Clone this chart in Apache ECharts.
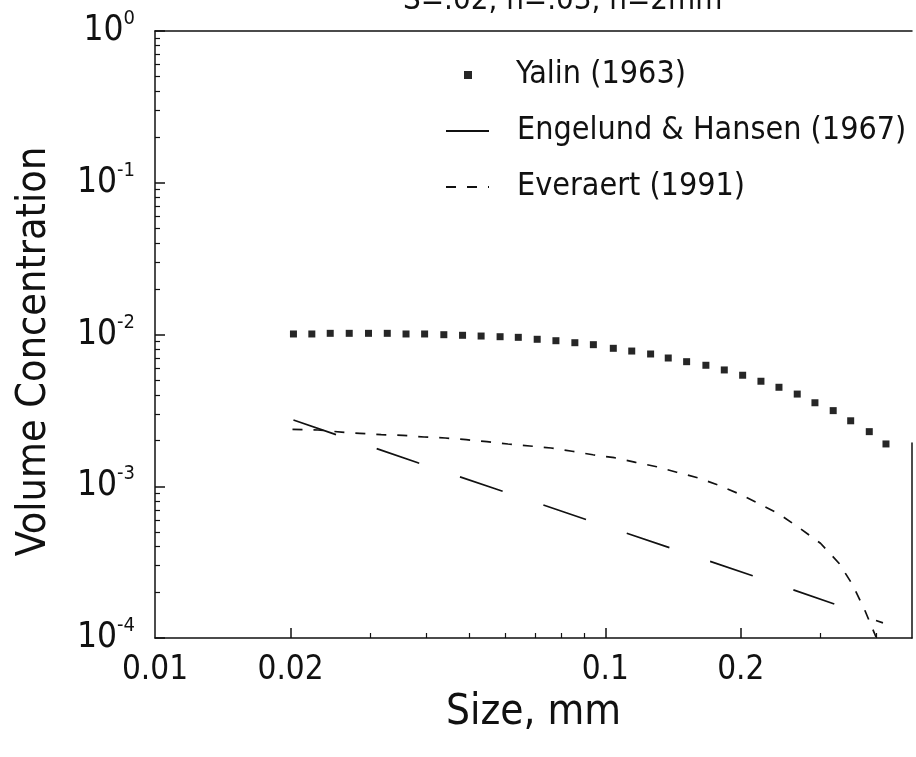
<!DOCTYPE html>
<html>
<head>
<meta charset="utf-8">
<script src="https://cdn.jsdelivr.net/npm/echarts@6/dist/echarts.min.js"></script>
<style>
html,body{margin:0;padding:0;background:#fff;}
#chart{width:916px;height:757px;}
</style>
</head>
<body>
<div id="chart"></div>
<script>
// ---- data ----
const yalinSize = [0.0203,0.0223,0.0245,0.0270,0.0298,0.0328,0.0361,0.0397,0.0438,0.0482,0.0530,0.0584,0.0641,0.0706,0.0777,0.0856,0.0941,0.1042,0.1145,0.1261,0.1380,0.1516,0.1673,0.1838,0.2019,0.2217,0.2431,0.2669,0.2922,0.3208,0.3508,0.3858,0.4202];
const yalinConc = [0.01008,0.01008,0.01018,0.01018,0.01018,0.01018,0.01008,0.01008,0.00997,0.00988,0.00977,0.00967,0.00958,0.00930,0.00910,0.00883,0.00857,0.00811,0.00778,0.00744,0.00700,0.00662,0.00627,0.00584,0.00539,0.00492,0.00449,0.00405,0.00355,0.00315,0.00270,0.00229,0.00190];

const ehSize = [0.0203,0.0385,0.0574,0.2125,0.3226];
const ehConc = [0.002733,0.001423,0.000955,0.0002572,0.0001675];

const evSize = [0.0202,0.0230,0.0264,0.0285,0.0318,0.0355,0.0396,0.0441,0.0491,0.0546,0.0608,0.0680,0.0758,0.0844,0.0939,0.1048,0.1168,0.1301,0.1441,0.1604,0.1780,0.1986,0.2200,0.2437,0.2706,0.3006,0.3304,0.3544,0.3773,0.3993,null,0.3993,0.4138];
const evConc = [0.002373,0.002348,0.002261,0.002233,0.002186,0.002166,0.002111,0.002080,0.002027,0.001967,0.001899,0.001842,0.001787,0.001700,0.001612,0.001542,0.001438,0.001345,0.001236,0.001138,0.001019,0.000889,0.000764,0.000654,0.000528,0.000421,0.000311,0.000224,0.0001518,0.0001015,null,0.0001304,0.0001259];

const seriesNames = ['Yalin (1963)','Engelund & Hansen (1967)','Everaert (1991)'];
const titleText = 'S=.02, n=.03, h=2mm';
const xName = 'Size, mm';
const yName = 'Volume Concentration';

const xLabelValues = [0.01,0.02,0.1,0.2];
const xLabelTexts = ['0.01','0.02','0.1','0.2'];
const xMajorTicks = [0.02,0.1,0.2];
const xMinorTicks = [0.03,0.04,0.05,0.06,0.07,0.08,0.09,0.3,0.4];

const yLabelValues = [0.0001,0.001,0.01,0.1,1];
const yLabelExps = ['-4','-3','-2','-1','0'];
const yMinorTicks = [0.0002,0.0003,0.0004,0.0005,0.0006,0.0007,0.0008,0.0009,
  0.002,0.003,0.004,0.005,0.006,0.007,0.008,0.009,
  0.02,0.03,0.04,0.05,0.06,0.07,0.08,0.09,
  0.2,0.3,0.4,0.5,0.6,0.7,0.8,0.9];

const xMin = 0.01, xMax = 0.48, yMin = 0.0001, yMax = 1;

// ---- build ----
const FONT = "'DejaVu Sans Condensed','Liberation Sans Narrow','Liberation Sans',sans-serif";
const INK = '#111';
function zip(a,b){ return a.map((v,i)=> (v===null||b[i]===null) ? [v, null] : [v,b[i]]); }
function nearestIdx(arr, v){ let bi=0,bd=Infinity; arr.forEach((a,i)=>{const d=Math.abs(Math.log(a)-Math.log(v)); if(d<bd){bd=d;bi=i;}}); return bi; }

const chart = echarts.init(document.getElementById('chart'), null, {renderer:'canvas'});
const axisLine = {show:true, lineStyle:{color:INK, width:1.5}};
const legendText = {fontFamily:FONT, fontSize:32, color:INK, lineHeight:40};
const noSymbol = {color:'rgba(0,0,0,0)', borderWidth:0, opacity:0};
chart.setOption({
  animation:false,
  backgroundColor:'#fff',
  title:{text:titleText, left:403, top:-15, padding:0, textStyle:{fontFamily:FONT, fontSize:31, fontWeight:'normal', color:INK}},
  grid:[
    {left:155, right:4, top:31, bottom:119, containLabel:false, outerBoundsMode:'none'},
    // partial right frame edge, as in the scan
    {left:912, right:4, top:443, bottom:119, containLabel:false, outerBoundsMode:'none'}
  ],
  legend:[
    {data:[{name:seriesNames[0], icon:'rect'}], left:464, top:55, padding:0, itemWidth:8, itemHeight:8, orient:'vertical',
     textStyle:Object.assign({padding:[0,0,0,39]}, legendText)},
    {data:[seriesNames[1]], left:445, top:111, padding:0, itemWidth:43, itemHeight:2, orient:'vertical',
     itemStyle:noSymbol,
     textStyle:Object.assign({padding:[0,0,0,23]}, legendText)},
    {data:[seriesNames[2]], left:445, top:167, padding:0, itemWidth:43, itemHeight:2, orient:'vertical',
     itemStyle:noSymbol,
     textStyle:Object.assign({padding:[0,0,0,23]}, legendText)}
  ],
  xAxis:[
    {type:'log', gridIndex:0, min:xMin, max:xMax, position:'bottom',
     name:xName, nameLocation:'middle', nameGap:50,
     nameTextStyle:{fontFamily:FONT, fontSize:42, color:INK},
     axisLine:axisLine,
     axisTick:{show:true, inside:true, length:10, lineStyle:{color:INK, width:1.5}, customValues:xMajorTicks},
     axisLabel:{show:true, margin:16, fontFamily:FONT, fontSize:33, color:INK, customValues:xLabelValues,
       formatter:(v)=> xLabelTexts[nearestIdx(xLabelValues, v)]},
     splitLine:{show:false}, minorTick:{show:false}},
    {type:'log', gridIndex:0, min:xMin, max:xMax, position:'bottom',
     axisLine:{show:false},
     axisTick:{show:true, inside:true, length:5, lineStyle:{color:INK, width:1.2}, customValues:xMinorTicks},
     axisLabel:{show:false}, splitLine:{show:false}},
    {type:'log', gridIndex:0, min:xMin, max:xMax, position:'top',
     axisLine:axisLine, axisTick:{show:false}, axisLabel:{show:false}, splitLine:{show:false}},
    {type:'value', gridIndex:1, show:false}
  ],
  yAxis:[
    {type:'log', gridIndex:0, min:yMin, max:yMax, position:'left',
     name:yName, nameLocation:'middle', nameGap:100,
     nameTextStyle:{fontFamily:FONT, fontSize:41, color:INK, padding:[0,34,0,0]},
     axisLine:axisLine,
     axisTick:{show:true, inside:true, length:10, lineStyle:{color:INK, width:1.5}, customValues:yLabelValues},
     axisLabel:{show:true, margin:20, customValues:yLabelValues,
       formatter:(v)=> '{b|10}{s|' + yLabelExps[nearestIdx(yLabelValues, v)] + '}',
       rich:{
         b:{fontFamily:FONT, fontSize:35, color:INK, lineHeight:44},
         s:{fontFamily:FONT, fontSize:20, color:INK, verticalAlign:'top', lineHeight:22}
       }},
     splitLine:{show:false}, minorTick:{show:false}},
    {type:'log', gridIndex:0, min:yMin, max:yMax, position:'left',
     axisLine:{show:false},
     axisTick:{show:true, inside:true, length:5, lineStyle:{color:INK, width:1.2}, customValues:yMinorTicks},
     axisLabel:{show:false}, splitLine:{show:false}},
    {type:'value', gridIndex:1, position:'left', min:0, max:1,
     axisLine:axisLine, axisTick:{show:false}, axisLabel:{show:false}, splitLine:{show:false}}
  ],
  series:[
    {name:seriesNames[0], type:'scatter', xAxisIndex:0, yAxisIndex:0,
     symbol:'rect', symbolSize:7, itemStyle:{color:'#262626', opacity:1},
     data:zip(yalinSize, yalinConc)},
    {name:seriesNames[1], type:'line', xAxisIndex:0, yAxisIndex:0,
     symbol:'none', showSymbol:false, smooth:false,
     lineStyle:{color:INK, width:1.7, type:[45,43]}, itemStyle:{color:INK},
     data:zip(ehSize, ehConc)},
    {name:seriesNames[2], type:'line', xAxisIndex:0, yAxisIndex:0,
     symbol:'none', showSymbol:false, smooth:false, connectNulls:false,
     lineStyle:{color:INK, width:1.7, type:[10,11]}, itemStyle:{color:INK},
     data:zip(evSize, evConc)}
  ]
});
</script>
</body>
</html>
